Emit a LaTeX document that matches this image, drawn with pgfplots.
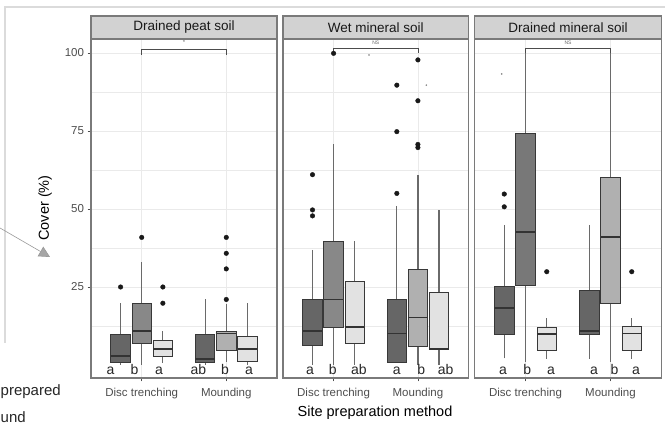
\documentclass[border=0pt]{standalone}
\usepackage{pgfplots}
\pgfplotsset{compat=1.18}
\usepgfplotslibrary{statistics}
\usetikzlibrary{arrows.meta}
\usepackage{fontspec}
\setmainfont{Liberation Sans}
\definecolor{dk}{HTML}{666666}
\definecolor{md}{HTML}{888888}
\definecolor{mdd}{HTML}{787878}
\definecolor{lm}{HTML}{B0B0B0}
\definecolor{lt}{HTML}{E2E2E2}
\definecolor{edge}{HTML}{383838}
\definecolor{wh}{HTML}{6A6A6A}
\definecolor{framec}{HTML}{7A7A7A}
\definecolor{gridc}{HTML}{EAEAEA}
\definecolor{stripc}{HTML}{D2D2D2}
\definecolor{tickc}{HTML}{4D4D4D}
\pgfplotsset{
  panel/.style={
    scale only axis, width=#1, height=339pt,
    xmin=0.4, xmax=2.6, ymin=-4.17, ymax=104.5,
    xtick={1,2}, xticklabels={Disc trenching, Mounding},
    ytick={25,50,75,100}, minor ytick={12.5,37.5,62.5,87.5},
    grid=both,
    major grid style={color=gridc, line width=0.8pt},
    minor grid style={color=gridc, line width=0.5pt},
    axis line style={draw=framec, line width=1.1pt},
    tick align=outside, major tick length=3.5pt, minor tick length=0pt,
    major tick style={draw=tickc, line width=0.6pt},
    xtick pos=bottom, ytick pos=left,
    tick label style={font=\fontsize{11.5}{12}\selectfont, text=tickc},
    xticklabel style={yshift=-3pt},
    /pgf/number format/assume math mode=true,
    clip=false,
    boxplot/draw direction=y,
    boxplot/box extend=0.23,
    boxplot/whisker extend=0,
    boxplot/every box/.style={draw=edge, line width=0.8pt},
    boxplot/every median/.style={draw=black!80, line width=1.8pt},
    boxplot/every whisker/.style={draw=wh, line width=1.2pt},
  },
}
\newcommand{\bx}[8]{\addplot[boxplot prepared={draw position=#1, lower whisker=#2, lower quartile=#3, median=#4, upper quartile=#5, upper whisker=#6}, fill=#7, draw=edge, mark=*, mark size=2.3pt, mark options={draw=black!90, fill=black!90}] coordinates {#8};}
\newcommand{\lab}[2]{\node[anchor=base, font=\fontsize{14}{14}\selectfont, text=black!85] at (axis cs:#1,-2.9) {#2};}
\begin{document}
\begin{tikzpicture}
\useasboundingbox (0pt,0pt) rectangle (665pt,427pt);
% remnants of neighbouring figure
\draw[color=black!14, line width=1.3pt] (5pt,84pt) -- (5pt,420pt) -- (665pt,420pt);
\draw[color=black!40, line width=0.6pt, -{Triangle[length=11pt,width=11pt,fill=black!35]}] (0pt,199pt) -- (50pt,170pt);
\node[anchor=base west, inner sep=0pt, font=\fontsize{15}{15}\selectfont, text=black!85] at (0.5pt,31pt) {prepared};
\node[anchor=base west, inner sep=0pt, font=\fontsize{15}{15}\selectfont, text=black!85] at (0.5pt,4.5pt) {und};

% Panel 1
\begin{axis}[panel=186pt, at={(91pt,49pt)}, anchor=south west]
\bx{0.75}{0}{0.9}{2.9}{9.9}{19.8}{dk}{(0.75,25)}
\bx{1.0}{0}{7}{11}{19.8}{32.9}{md}{(1,40.9)}
\bx{1.25}{0.5}{2.9}{5.1}{7.8}{10.9}{lt}{(1.25,19.8) (1.25,25)}
\bx{1.75}{0}{0.9}{2}{9.9}{21}{dk}{}
\bx{2.0}{1}{4.8}{10.1}{10.9}{19.5}{lm}{(2,21) (2,30.8) (2,35.8) (2,40.9)}
\bx{2.25}{0}{1.1}{5.1}{9.1}{19.8}{lt}{}
\addplot[draw=black!70, line width=0.8pt] coordinates {(1,99.4) (1,101.2) (2,101.2) (2,99.4)};
\node[font=\fontsize{6}{6}\selectfont, text=black!60] at (axis cs:1.5,103.3) {*};
\lab{0.63}{a}\lab{0.915}{b}\lab{1.205}{a}\lab{1.67}{ab}\lab{1.986}{b}\lab{2.27}{a}
\end{axis}

% Panel 2
\begin{axis}[panel=185.5pt, at={(283pt,49pt)}, anchor=south west, yticklabels={}, ytick style={draw=none}]
\bx{0.75}{0}{6.2}{11}{21}{36.9}{dk}{(0.75,47.8) (0.75,49.7) (0.75,61)}
\bx{1.0}{0}{12.1}{21}{39.7}{70.7}{md}{(1,99.9)}
\bx{1.25}{0}{7}{12.2}{26.9}{39.7}{lt}{}
\bx{1.75}{0.9}{0.9}{10.1}{21}{51}{dk}{(1.75,55) (1.75,74.8) (1.75,89.7)}
\bx{2.0}{0}{5.9}{15.2}{30.8}{61}{lm}{(2,69.7) (2,70.7) (2,84.7) (2,97.8)}
\bx{2.25}{0}{5}{5.2}{23.3}{49.7}{lt}{}
\addplot[only marks, mark=*, mark size=0.6pt, color=black!45] coordinates {(1.42,99.4) (2.1,89.7)};
\addplot[draw=black!70, line width=0.8pt] coordinates {(1,100.3) (1,101.4) (2,101.4) (2,99.9)};
\node[font=\fontsize{5}{5}\selectfont, text=black!60] at (axis cs:1.5,103.2) {NS};
\lab{0.72}{a}\lab{0.99}{b}\lab{1.30}{ab}\lab{1.75}{a}\lab{2.04}{b}\lab{2.33}{ab}
\end{axis}

% Panel 3
\begin{axis}[panel=187pt, at={(474.5pt,49pt)}, anchor=south west, yticklabels={}, ytick style={draw=none}]
\bx{0.75}{2.1}{9.8}{18.2}{25.1}{44.9}{dk}{(0.75,50.7) (0.75,54.8)}
\bx{1.0}{1}{25.6}{42.7}{74.2}{100}{mdd}{}
\bx{1.25}{2}{4.6}{9.9}{12.1}{15}{lt}{(1.25,29.9)}
\bx{1.75}{2}{9.8}{11}{24}{44.9}{dk}{}
\bx{2.0}{1}{19.8}{41.1}{60.1}{100}{lm}{}
\bx{2.25}{2}{4.6}{10.1}{12.3}{15}{lt}{(2.25,29.9)}
\addplot[only marks, mark=*, mark size=0.6pt, color=black!45] coordinates {(0.72,93.3)};
\addplot[draw=black!70, line width=0.8pt] coordinates {(1,100) (1,101.4) (2,101.4) (2,99.9)};
\node[font=\fontsize{5}{5}\selectfont, text=black!60] at (axis cs:1.5,103.2) {NS};
\lab{0.735}{a}\lab{1.02}{b}\lab{1.30}{a}\lab{1.806}{a}\lab{2.047}{b}\lab{2.30}{a}
\end{axis}

% strips
\draw[draw=framec, fill=stripc, line width=1.1pt] (91pt,388pt) rectangle (277pt,411pt);
\draw[draw=framec, fill=stripc, line width=1.1pt] (283pt,388pt) rectangle (468.5pt,411pt);
\draw[draw=framec, fill=stripc, line width=1.1pt] (474.5pt,388pt) rectangle (661.5pt,411pt);
\node[font=\fontsize{13.5}{14}\selectfont, text=black!90] at (184pt,399.5pt) {Drained peat soil};
\node[font=\fontsize{13.5}{14}\selectfont, text=black!90] at (375.75pt,399.5pt) {Wet mineral soil};
\node[font=\fontsize{13.5}{14}\selectfont, text=black!90] at (568pt,399.5pt) {Drained mineral soil};
% axis titles
\node[rotate=90, font=\fontsize{14.5}{15}\selectfont] at (45pt,219pt) {Cover (\%)};
\node[font=\fontsize{14.5}{15}\selectfont] at (375pt,14pt) {Site preparation method};
\end{tikzpicture}
\end{document}
